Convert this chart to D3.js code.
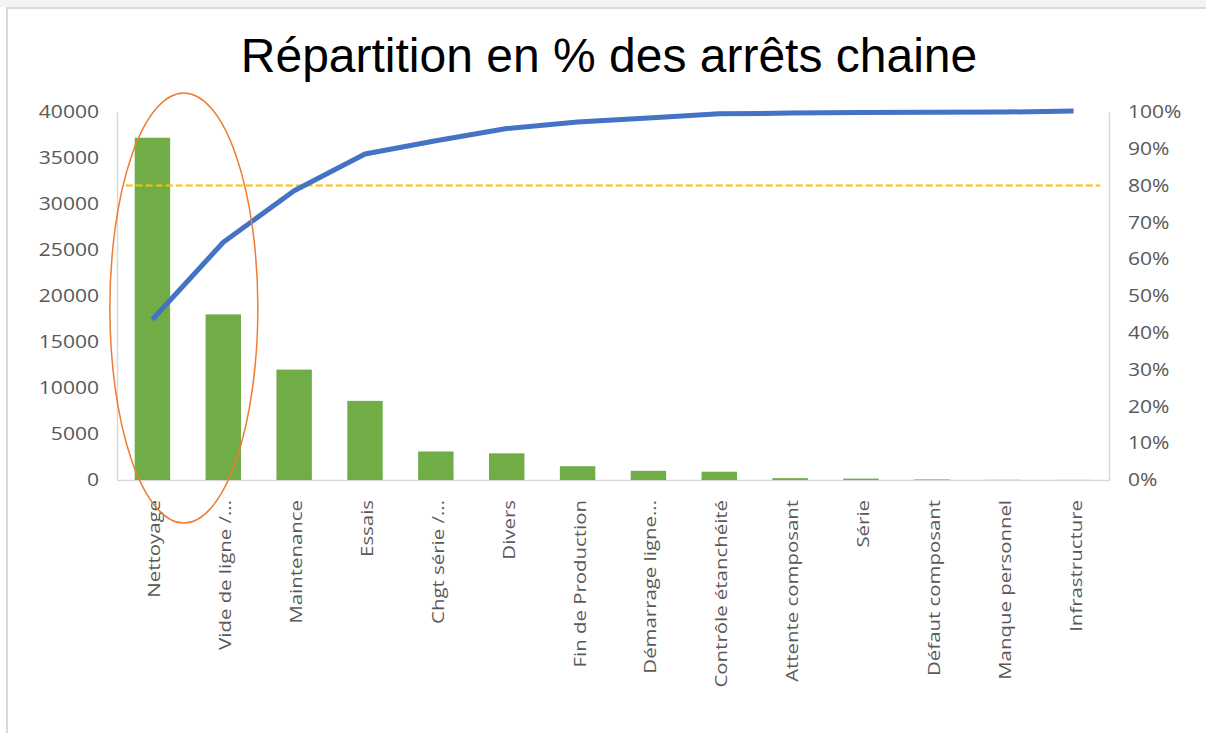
<!DOCTYPE html>
<html><head><meta charset="utf-8">
<script src="https://cdn.jsdelivr.net/npm/d3@7"></script>
<style>
html,body{margin:0;padding:0;background:#fff;}
svg{display:block;}
</style></head>
<body>
<svg id="chart" width="1206" height="733"></svg>
<script>
const title = "Répartition en % des arrêts chaine";
const categories = ["Nettoyage","Vide de ligne /...","Maintenance","Essais","Chgt série /...","Divers","Fin de Production","Démarrage ligne...","Contrôle étanchéité","Attente composant","Série","Défaut composant","Manque personnel","Infrastructure"];
const values = [37200,18000,12000,8600,3100,2900,1500,1000,900,200,150,60,20,10];
const cumulativePct = [43.6,64.6,78.6,88.6,92.2,95.5,97.3,98.4,99.5,99.7,99.85,99.93,99.97,100.3];
const leftTicks = [0,5000,10000,15000,20000,25000,30000,35000,40000];
const rightTicks = [0,10,20,30,40,50,60,70,80,90,100];
const threshold = 80;

const svg = d3.select("#chart");
const m = {left:117, right:1109, top:112, bottom:480};

// frame
svg.append("rect").attr("x",0).attr("y",0).attr("width",1206).attr("height",7).attr("fill","#f3f3f3");
svg.append("line").attr("x1",6).attr("x2",1206).attr("y1",8).attr("y2",8).attr("stroke","#d9d9d9").attr("stroke-width",2);
svg.append("line").attr("x1",7).attr("x2",7).attr("y1",8).attr("y2",733).attr("stroke","#d9d9d9").attr("stroke-width",2);

const x = d3.scaleBand().domain(categories).range([m.left,m.right]).paddingInner(0.5).paddingOuter(0.25);
const y = d3.scaleLinear().domain([0,40000]).range([m.bottom,m.top]);
const y2 = d3.scaleLinear().domain([0,100]).range([m.bottom,m.top]);

svg.append("text").attr("x",609).attr("y",72).attr("text-anchor","middle")
  .attr("font-family","Liberation Sans, Arial, sans-serif").attr("font-size",48).attr("fill","#000").text(title);

// axes
const sx = 1.17;
const gL = svg.append("g").attr("transform",`translate(${m.left},0)`)
  .call(d3.axisLeft(y).tickValues(leftTicks).tickSize(0).tickPadding(18).tickFormat(d3.format("d")));
const gR = svg.append("g").attr("transform",`translate(${m.right},0)`)
  .call(d3.axisRight(y2).tickValues(rightTicks).tickSize(0).tickPadding(19).tickFormat(d=>d+"%"));
[gL,gR].forEach(g=>{
  g.select(".domain").attr("stroke","#d9d9d9").attr("stroke-width",1.5);
  g.selectAll("text").attr("font-family","Open Sans, sans-serif").attr("font-size",18).attr("fill","#595959")
    .attr("x",function(){return +d3.select(this).attr("x")/sx;}).attr("transform",`scale(${sx},1)`);
});
const gX = svg.append("g").attr("transform",`translate(0,${m.bottom})`)
  .call(d3.axisBottom(x).tickSize(0).tickPadding(0));
gX.select(".domain").attr("stroke","#d9d9d9").attr("stroke-width",1.5);
gX.selectAll("text").attr("font-family","Open Sans, sans-serif").attr("font-size",17).attr("fill","#595959")
  .attr("text-anchor","end").attr("transform","rotate(-90) scale(1.2,1)").attr("x",-20/1.2).attr("y",2).attr("dy","0.35em");

// bars
svg.append("g").selectAll("rect").data(values).join("rect")
  .attr("x",(d,i)=>x(categories[i])).attr("width",x.bandwidth())
  .attr("y",d=>y(d)).attr("height",d=>y(0)-y(d))
  .attr("fill","#70ad47");

// 80% line
svg.append("line").attr("x1",x(categories[0])-9).attr("x2",x(categories[categories.length-1])+x.bandwidth()+9)
  .attr("y1",y2(threshold)).attr("y2",y2(threshold))
  .attr("stroke","#ffc000").attr("stroke-width",2).attr("stroke-dasharray","7,3");

// cumulative line
const line = d3.line().x((d,i)=>x(categories[i])+x.bandwidth()/2).y(d=>y2(d));
svg.append("path").datum(cumulativePct).attr("d",line).attr("fill","none")
  .attr("stroke","#4472c4").attr("stroke-width",5).attr("stroke-linejoin","round");

// ellipse annotation
const c0 = x(categories[0])+x.bandwidth()/2, c1 = x(categories[1])+x.bandwidth()/2;
svg.append("ellipse").attr("cx",(c0+c1)/2-4).attr("cy",308).attr("rx",74).attr("ry",215)
  .attr("fill","none").attr("stroke","#ed7d31").attr("stroke-width",1.5);
</script>
</body></html>
